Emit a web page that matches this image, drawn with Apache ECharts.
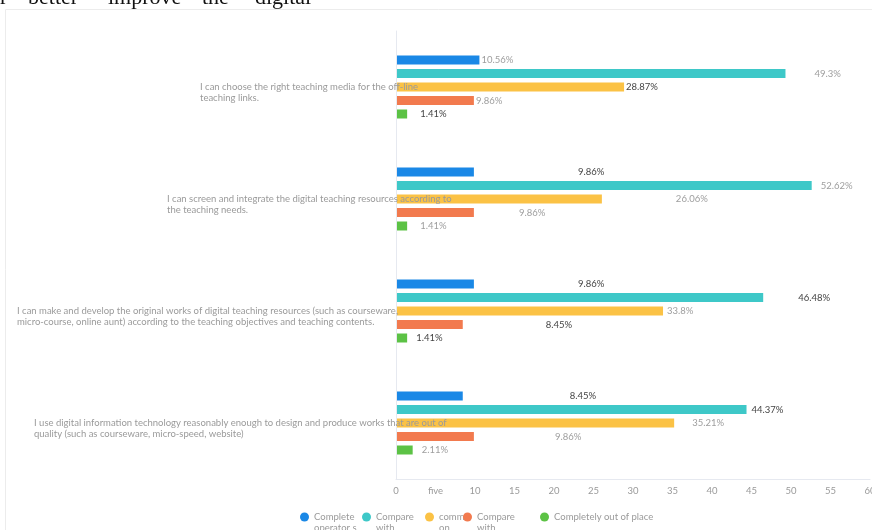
<!DOCTYPE html>
<html>
<head>
<meta charset="utf-8">
<script src="https://cdn.jsdelivr.net/npm/echarts@6/dist/echarts.min.js"></script>
<style>
  html, body { margin: 0; padding: 0; background: #fff; }
  #chart { width: 872px; height: 530px; }
</style>
</head>
<body>
<div id="chart"></div>
<script>
// Survey statements (top to bottom)
var categories = [
  'I can choose the right teaching media for the off-line\nteaching links.',
  'I can screen and integrate the digital teaching resources according to\nthe teaching needs.',
  'I can make and develop the original works of digital teaching resources (such as courseware,\nmicro-course, online aunt) according to the teaching objectives and teaching contents.',
  'I use digital information technology reasonably enough to design and produce works that are out of\nquality (such as courseware, micro-speed, website)'
];

// Response options
var seriesNames = ['Complete operator s', 'Compare with', 'comm on', 'Compare with ', 'Completely out of place'];
var legendLabels = ['Complete\noperator s', 'Compare\nwith', 'comm\non', 'Compare\nwith', 'Completely out of place'];

// Percentages per option, one value per statement
var completeValues   = [10.56, 9.86, 9.86, 8.45];
var compareValues    = [49.3, 52.62, 46.48, 44.37];
var commonValues     = [28.87, 26.06, 33.8, 35.21];
var compare2Values   = [9.86, 9.86, 8.45, 9.86];
var outOfPlaceValues = [1.41, 1.41, 1.41, 2.11];

// X axis tick labels
var tickLabels = ['0', 'five', '10', '15', '20', '25', '30', '35', '40', '45', '50', '55', '60'];

// ---- styling ----
var colors = ['#1a88e6', '#3ec8c8', '#fbc245', '#f27a4e', '#5cc245'];
var seriesValues = [completeValues, compareValues, commonValues, compare2Values, outOfPlaceValues];

// extra horizontal shift of each value label [series][category]
var labelShift = [
  [0, 102, 102, 105],
  [27, 7, 33, 3],
  [0, 72, 2, 16],
  [0, 43, 81, 79],
  [11, 11, 7, 7]
];
// 1 = dark label text, 0 = light grey
var labelDark = [
  [0, 1, 1, 1],
  [0, 0, 1, 1],
  [1, 0, 0, 0],
  [0, 0, 1, 0],
  [1, 0, 1, 0]
];
// left indent of each statement text block
var catIndent = [183, 150, 0, 17];

var richCat = {};
catIndent.forEach(function (p, i) {
  richCat['g' + i] = { padding: [0, 0, 0, p], color: '#9a9a9a', fontSize: 9.5, lineHeight: 11, fontFamily: 'Lato' };
});

var series = seriesNames.map(function (name, s) {
  return {
    name: name,
    type: 'bar',
    barWidth: 9,
    barGap: '50%',
    itemStyle: { color: colors[s] },
    label: {
      show: true,
      position: 'right',
      distance: 2,
      fontSize: 9.5,
      fontFamily: 'Lato',
      formatter: '{c}%'
    },
    data: seriesValues[s].map(function (v, c) {
      return {
        value: v,
        label: {
          offset: [labelShift[s][c], 0],
          color: labelDark[s][c] ? '#444' : '#9e9e9e'
        }
      };
    })
  };
});

// legend placement: one block per option; the leading blank line keeps
// the icon level with the first text line
var legendLeft = [300, 362, 425, 463, 540];
var legends = seriesNames.map(function (name, i) {
  var twoLines = legendLabels[i].indexOf('\n') >= 0;
  return {
    data: [name],
    left: legendLeft[i],
    top: twoLines ? 500.5 : 511.5,
    padding: 0,
    icon: 'circle',
    itemWidth: 9,
    itemHeight: 9,
    formatter: function () { return twoLines ? '\n' + legendLabels[i] : legendLabels[i]; },
    textStyle: {
      color: '#9a9a9a',
      fontSize: 9.5,
      lineHeight: 11,
      fontFamily: 'Lato'
    }
  };
});

// heading words of the surrounding page, cut by the top edge
var headWords = [['r', 0], ['better', 28], ['improve', 108], ['the', 202], ['digital', 255]];

var chart = echarts.init(document.getElementById('chart'), null, { renderer: 'canvas' });
chart.setOption({
  backgroundColor: '#fff',
  animation: false,
  color: colors,
  grid: { left: 396, right: 2, top: 31, bottom: 51, containLabel: false, outerBoundsMode: 'none' },
  legend: legends,
  xAxis: {
    type: 'value',
    min: 0,
    max: 60,
    interval: 5,
    axisLine: { show: true, lineStyle: { color: '#e6e9f0' } },
    axisTick: { show: false },
    splitLine: { show: false },
    axisLabel: {
      color: '#9a9a9a',
      fontSize: 9.5,
      fontFamily: 'Lato',
      margin: 7,
      formatter: function (v) { return tickLabels[Math.round(v / 5)]; }
    }
  },
  yAxis: {
    type: 'category',
    inverse: true,
    z: 5,
    data: categories,
    axisLine: { show: true, lineStyle: { color: '#e6e9f0' } },
    axisTick: { show: false },
    axisLabel: {
      align: 'left',
      margin: 379,
      padding: [10, 0, 0, 0],
      rich: richCat,
      formatter: function (val, idx) {
        return val.split('\n').map(function (line) {
          return '{g' + idx + '|' + line + '}';
        }).join('\n');
      }
    }
  },
  series: series,
  graphic: [
    { type: 'line', shape: { x1: 5.5, y1: 9.5, x2: 5.5, y2: 530 }, style: { stroke: '#ececec', lineWidth: 1 }, silent: true },
    { type: 'line', shape: { x1: 5.5, y1: 9.5, x2: 872, y2: 9.5 }, style: { stroke: '#ececec', lineWidth: 1 }, silent: true }
  ].concat(headWords.map(function (w) {
    return {
      type: 'text',
      left: w[1],
      top: -13,
      style: { text: w[0], font: '22px "Liberation Serif"', fill: '#111' },
      silent: true
    };
  }))
});
</script>
</body>
</html>
